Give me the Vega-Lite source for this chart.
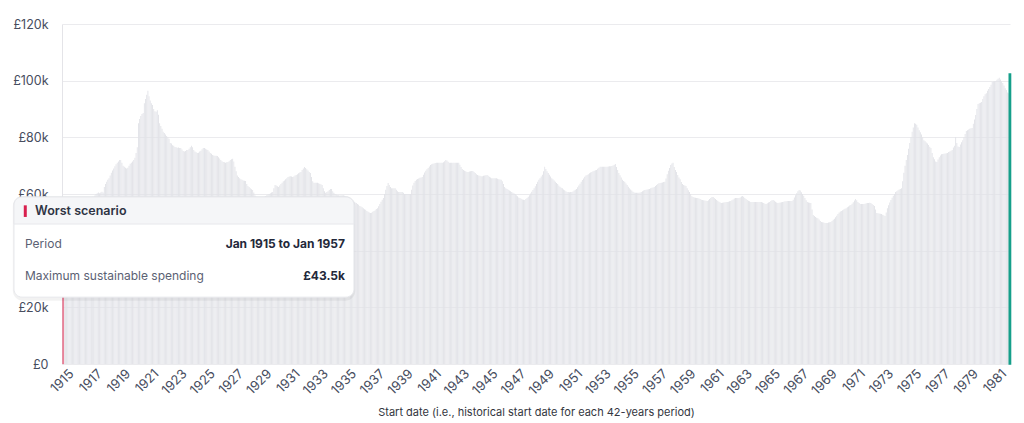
{
  "$schema": "https://vega.github.io/schema/vega-lite/v6.json",
  "width": 948,
  "height": 340,
  "autosize": {"type": "none"},
  "padding": {"left": 62, "top": 24, "right": 14, "bottom": 59},
  "background": "white",
  "config": {
    "font": "Inter",
    "view": {"stroke": null},
    "axisX": {"labelOverlap": false, "labelFlush": false, "labelAngle": -45, "labelOffset": 5, "labelFontSize": 13, "labelColor": "#474d5e", "labelPadding": 3, "ticks": false, "domain": false, "grid": false}
  },
  "resolve": {"axis": {"x": "independent"}},
  "data": {"values": [
    {"d":"1915-01","v":43.5},{"d":"1915-02","v":46},{"d":"1915-03","v":48},{"d":"1915-04","v":49.5},{"d":"1915-05","v":50.5},{"d":"1915-06","v":51.5},{"d":"1915-07","v":52},{"d":"1915-08","v":52.5},{"d":"1915-09","v":53},{"d":"1915-10","v":53.5},{"d":"1915-11","v":54},{"d":"1915-12","v":54.5},
    {"d":"1916-01","v":55},{"d":"1916-02","v":55.5},{"d":"1916-03","v":56},{"d":"1916-04","v":56},{"d":"1916-05","v":56.5},{"d":"1916-06","v":57},{"d":"1916-07","v":57},{"d":"1916-08","v":57.5},{"d":"1916-09","v":57.5},{"d":"1916-10","v":58},{"d":"1916-11","v":58},{"d":"1916-12","v":58.5},
    {"d":"1917-01","v":58.5},{"d":"1917-02","v":59},{"d":"1917-03","v":59},{"d":"1917-04","v":59.5},{"d":"1917-05","v":60},{"d":"1917-06","v":60.3},{"d":"1917-07","v":60.5},{"d":"1917-08","v":60.3},{"d":"1917-09","v":60.5},{"d":"1917-10","v":60.8},{"d":"1917-11","v":60.5},{"d":"1917-12","v":62.5},
    {"d":"1918-01","v":63.5},{"d":"1918-02","v":64.3},{"d":"1918-03","v":65},{"d":"1918-04","v":65.6},{"d":"1918-05","v":66.5},{"d":"1918-06","v":67.5},{"d":"1918-07","v":68.3},{"d":"1918-08","v":69},{"d":"1918-09","v":69.8},{"d":"1918-10","v":70.5},{"d":"1918-11","v":71},{"d":"1918-12","v":71.5},
    {"d":"1919-01","v":72},{"d":"1919-02","v":72},{"d":"1919-03","v":71},{"d":"1919-04","v":70},{"d":"1919-05","v":69.6},{"d":"1919-06","v":69.3},{"d":"1919-07","v":69},{"d":"1919-08","v":69.3},{"d":"1919-09","v":70},{"d":"1919-10","v":70.7},{"d":"1919-11","v":71},{"d":"1919-12","v":71.5},
    {"d":"1920-01","v":72},{"d":"1920-02","v":72.8},{"d":"1920-03","v":74.5},{"d":"1920-04","v":76.5},{"d":"1920-05","v":85},{"d":"1920-06","v":86.5},{"d":"1920-07","v":87.5},{"d":"1920-08","v":88.2},{"d":"1920-09","v":88.6},{"d":"1920-10","v":92},{"d":"1920-11","v":93.5},{"d":"1920-12","v":95},
    {"d":"1921-01","v":96.4},{"d":"1921-02","v":94.5},{"d":"1921-03","v":93},{"d":"1921-04","v":92},{"d":"1921-05","v":91.4},{"d":"1921-06","v":90},{"d":"1921-07","v":89.2},{"d":"1921-08","v":89},{"d":"1921-09","v":89.6},{"d":"1921-10","v":88},{"d":"1921-11","v":85},{"d":"1921-12","v":84},
    {"d":"1922-01","v":83},{"d":"1922-02","v":82},{"d":"1922-03","v":81.5},{"d":"1922-04","v":81},{"d":"1922-05","v":80.5},{"d":"1922-06","v":80},{"d":"1922-07","v":79.5},{"d":"1922-08","v":78},{"d":"1922-09","v":77.8},{"d":"1922-10","v":77.2},{"d":"1922-11","v":77},{"d":"1922-12","v":76.6},
    {"d":"1923-01","v":76.5},{"d":"1923-02","v":76.3},{"d":"1923-03","v":76.4},{"d":"1923-04","v":76.2},{"d":"1923-05","v":76.2},{"d":"1923-06","v":75.7},{"d":"1923-07","v":75.2},{"d":"1923-08","v":75},{"d":"1923-09","v":75.2},{"d":"1923-10","v":75.5},{"d":"1923-11","v":75.5},{"d":"1923-12","v":76},
    {"d":"1924-01","v":76.5},{"d":"1924-02","v":77},{"d":"1924-03","v":76.5},{"d":"1924-04","v":75.5},{"d":"1924-05","v":75},{"d":"1924-06","v":74.7},{"d":"1924-07","v":74.5},{"d":"1924-08","v":74.6},{"d":"1924-09","v":75},{"d":"1924-10","v":75.3},{"d":"1924-11","v":75.8},{"d":"1924-12","v":76.2},
    {"d":"1925-01","v":76.2},{"d":"1925-02","v":76},{"d":"1925-03","v":75.7},{"d":"1925-04","v":75.5},{"d":"1925-05","v":75},{"d":"1925-06","v":74.5},{"d":"1925-07","v":74.2},{"d":"1925-08","v":73.8},{"d":"1925-09","v":73.6},{"d":"1925-10","v":73.5},{"d":"1925-11","v":73.5},{"d":"1925-12","v":73.4},
    {"d":"1926-01","v":73},{"d":"1926-02","v":72.5},{"d":"1926-03","v":72},{"d":"1926-04","v":71.6},{"d":"1926-05","v":71.3},{"d":"1926-06","v":71.2},{"d":"1926-07","v":71},{"d":"1926-08","v":71.2},{"d":"1926-09","v":71.3},{"d":"1926-10","v":71.6},{"d":"1926-11","v":72},{"d":"1926-12","v":72.3},
    {"d":"1927-01","v":72.4},{"d":"1927-02","v":71.5},{"d":"1927-03","v":69.6},{"d":"1927-04","v":68},{"d":"1927-05","v":66.5},{"d":"1927-06","v":66},{"d":"1927-07","v":65.6},{"d":"1927-08","v":65.2},{"d":"1927-09","v":65},{"d":"1927-10","v":64.8},{"d":"1927-11","v":64.7},{"d":"1927-12","v":64.6},
    {"d":"1928-01","v":63.5},{"d":"1928-02","v":62.8},{"d":"1928-03","v":62.5},{"d":"1928-04","v":62},{"d":"1928-05","v":61.7},{"d":"1928-06","v":61.4},{"d":"1928-07","v":60.5},{"d":"1928-08","v":59.5},{"d":"1928-09","v":59},{"d":"1928-10","v":58.8},{"d":"1928-11","v":58.6},{"d":"1928-12","v":58.5},
    {"d":"1929-01","v":58.5},{"d":"1929-02","v":58.6},{"d":"1929-03","v":58.8},{"d":"1929-04","v":59},{"d":"1929-05","v":59.3},{"d":"1929-06","v":59.6},{"d":"1929-07","v":59.8},{"d":"1929-08","v":60},{"d":"1929-09","v":60.3},{"d":"1929-10","v":60.5},{"d":"1929-11","v":60.7},{"d":"1929-12","v":62},
    {"d":"1930-01","v":63.2},{"d":"1930-02","v":63},{"d":"1930-03","v":62.7},{"d":"1930-04","v":62.5},{"d":"1930-05","v":63},{"d":"1930-06","v":63.5},{"d":"1930-07","v":64},{"d":"1930-08","v":64.5},{"d":"1930-09","v":64.8},{"d":"1930-10","v":65.2},{"d":"1930-11","v":65.6},{"d":"1930-12","v":66},
    {"d":"1931-01","v":66.2},{"d":"1931-02","v":66.3},{"d":"1931-03","v":66.2},{"d":"1931-04","v":66},{"d":"1931-05","v":66.2},{"d":"1931-06","v":66.5},{"d":"1931-07","v":66.7},{"d":"1931-08","v":67},{"d":"1931-09","v":67.3},{"d":"1931-10","v":67.6},{"d":"1931-11","v":67.8},{"d":"1931-12","v":68.5},
    {"d":"1932-01","v":69},{"d":"1932-02","v":69.5},{"d":"1932-03","v":69.2},{"d":"1932-04","v":68.7},{"d":"1932-05","v":68.3},{"d":"1932-06","v":67.8},{"d":"1932-07","v":67.4},{"d":"1932-08","v":66},{"d":"1932-09","v":64.5},{"d":"1932-10","v":64},{"d":"1932-11","v":64},{"d":"1932-12","v":64},
    {"d":"1933-01","v":64},{"d":"1933-02","v":63.8},{"d":"1933-03","v":63.6},{"d":"1933-04","v":63.4},{"d":"1933-05","v":63.2},{"d":"1933-06","v":62},{"d":"1933-07","v":61},{"d":"1933-08","v":60.4},{"d":"1933-09","v":60.7},{"d":"1933-10","v":61},{"d":"1933-11","v":61.4},{"d":"1933-12","v":61.8},
    {"d":"1934-01","v":61.8},{"d":"1934-02","v":61},{"d":"1934-03","v":60.4},{"d":"1934-04","v":60},{"d":"1934-05","v":59.8},{"d":"1934-06","v":59.6},{"d":"1934-07","v":59.6},{"d":"1934-08","v":59.5},{"d":"1934-09","v":59.6},{"d":"1934-10","v":59.6},{"d":"1934-11","v":59.6},{"d":"1934-12","v":59.4},
    {"d":"1935-01","v":59.2},{"d":"1935-02","v":59},{"d":"1935-03","v":58.8},{"d":"1935-04","v":58.5},{"d":"1935-05","v":58.2},{"d":"1935-06","v":58},{"d":"1935-07","v":57.6},{"d":"1935-08","v":57.3},{"d":"1935-09","v":57},{"d":"1935-10","v":56.8},{"d":"1935-11","v":56.5},{"d":"1935-12","v":56.2},
    {"d":"1936-01","v":55.8},{"d":"1936-02","v":55.6},{"d":"1936-03","v":55.3},{"d":"1936-04","v":55},{"d":"1936-05","v":54.6},{"d":"1936-06","v":54.4},{"d":"1936-07","v":54},{"d":"1936-08","v":53.7},{"d":"1936-09","v":53.5},{"d":"1936-10","v":53.3},{"d":"1936-11","v":53.4},{"d":"1936-12","v":53.7},
    {"d":"1937-01","v":54},{"d":"1937-02","v":54.3},{"d":"1937-03","v":54.7},{"d":"1937-04","v":55},{"d":"1937-05","v":55.7},{"d":"1937-06","v":56.5},{"d":"1937-07","v":57.3},{"d":"1937-08","v":58},{"d":"1937-09","v":58.6},{"d":"1937-10","v":60},{"d":"1937-11","v":61.5},{"d":"1937-12","v":62.8},
    {"d":"1938-01","v":63.9},{"d":"1938-02","v":63.2},{"d":"1938-03","v":62.5},{"d":"1938-04","v":62},{"d":"1938-05","v":62},{"d":"1938-06","v":62},{"d":"1938-07","v":62},{"d":"1938-08","v":61.5},{"d":"1938-09","v":61},{"d":"1938-10","v":60.7},{"d":"1938-11","v":60.7},{"d":"1938-12","v":60.7},
    {"d":"1939-01","v":60.7},{"d":"1939-02","v":60.4},{"d":"1939-03","v":60},{"d":"1939-04","v":60},{"d":"1939-05","v":60},{"d":"1939-06","v":60},{"d":"1939-07","v":60},{"d":"1939-08","v":60},{"d":"1939-09","v":61.5},{"d":"1939-10","v":63},{"d":"1939-11","v":64},{"d":"1939-12","v":64.6},
    {"d":"1940-01","v":65},{"d":"1940-02","v":65.3},{"d":"1940-03","v":65.5},{"d":"1940-04","v":65.7},{"d":"1940-05","v":65.8},{"d":"1940-06","v":66},{"d":"1940-07","v":66.8},{"d":"1940-08","v":67.6},{"d":"1940-09","v":68.2},{"d":"1940-10","v":68.7},{"d":"1940-11","v":69.2},{"d":"1940-12","v":69.7},
    {"d":"1941-01","v":70.2},{"d":"1941-02","v":70.5},{"d":"1941-03","v":70.7},{"d":"1941-04","v":70.8},{"d":"1941-05","v":70.9},{"d":"1941-06","v":71},{"d":"1941-07","v":71},{"d":"1941-08","v":71},{"d":"1941-09","v":71},{"d":"1941-10","v":71},{"d":"1941-11","v":71},{"d":"1941-12","v":71.2},
    {"d":"1942-01","v":71.6},{"d":"1942-02","v":72},{"d":"1942-03","v":71.8},{"d":"1942-04","v":71.4},{"d":"1942-05","v":71},{"d":"1942-06","v":71},{"d":"1942-07","v":71},{"d":"1942-08","v":71},{"d":"1942-09","v":71},{"d":"1942-10","v":71},{"d":"1942-11","v":71},{"d":"1942-12","v":71},
    {"d":"1943-01","v":71},{"d":"1943-02","v":70.3},{"d":"1943-03","v":69.5},{"d":"1943-04","v":68.8},{"d":"1943-05","v":68.5},{"d":"1943-06","v":68.2},{"d":"1943-07","v":68},{"d":"1943-08","v":67.8},{"d":"1943-09","v":67.8},{"d":"1943-10","v":67.9},{"d":"1943-11","v":68},{"d":"1943-12","v":68.1},
    {"d":"1944-01","v":68.1},{"d":"1944-02","v":67.8},{"d":"1944-03","v":67.4},{"d":"1944-04","v":67},{"d":"1944-05","v":66.7},{"d":"1944-06","v":66.5},{"d":"1944-07","v":66.4},{"d":"1944-08","v":66.3},{"d":"1944-09","v":66.3},{"d":"1944-10","v":66.4},{"d":"1944-11","v":66.5},{"d":"1944-12","v":66.6},
    {"d":"1945-01","v":66.7},{"d":"1945-02","v":66.4},{"d":"1945-03","v":66.1},{"d":"1945-04","v":65.8},{"d":"1945-05","v":65.6},{"d":"1945-06","v":65.6},{"d":"1945-07","v":65.6},{"d":"1945-08","v":65.6},{"d":"1945-09","v":65.6},{"d":"1945-10","v":65.4},{"d":"1945-11","v":65.2},{"d":"1945-12","v":65.1},
    {"d":"1946-01","v":65},{"d":"1946-02","v":64.5},{"d":"1946-03","v":63.5},{"d":"1946-04","v":62.5},{"d":"1946-05","v":62},{"d":"1946-06","v":61.8},{"d":"1946-07","v":61.5},{"d":"1946-08","v":61.2},{"d":"1946-09","v":61},{"d":"1946-10","v":60.7},{"d":"1946-11","v":60.4},{"d":"1946-12","v":60.2},
    {"d":"1947-01","v":59.9},{"d":"1947-02","v":59.6},{"d":"1947-03","v":59.2},{"d":"1947-04","v":58.8},{"d":"1947-05","v":58.6},{"d":"1947-06","v":58.3},{"d":"1947-07","v":58.1},{"d":"1947-08","v":58},{"d":"1947-09","v":57.9},{"d":"1947-10","v":58.2},{"d":"1947-11","v":58.6},{"d":"1947-12","v":59},
    {"d":"1948-01","v":59.6},{"d":"1948-02","v":60.2},{"d":"1948-03","v":60.8},{"d":"1948-04","v":61.4},{"d":"1948-05","v":62},{"d":"1948-06","v":62.7},{"d":"1948-07","v":63.5},{"d":"1948-08","v":64.3},{"d":"1948-09","v":65},{"d":"1948-10","v":65.6},{"d":"1948-11","v":66.2},{"d":"1948-12","v":66.8},
    {"d":"1949-01","v":68},{"d":"1949-02","v":69.6},{"d":"1949-03","v":68.8},{"d":"1949-04","v":68},{"d":"1949-05","v":67.4},{"d":"1949-06","v":66.8},{"d":"1949-07","v":66.2},{"d":"1949-08","v":65.6},{"d":"1949-09","v":65.2},{"d":"1949-10","v":64.8},{"d":"1949-11","v":64.3},{"d":"1949-12","v":63.9},
    {"d":"1950-01","v":63.5},{"d":"1950-02","v":63},{"d":"1950-03","v":62.6},{"d":"1950-04","v":62.2},{"d":"1950-05","v":62},{"d":"1950-06","v":61.6},{"d":"1950-07","v":61.3},{"d":"1950-08","v":61},{"d":"1950-09","v":60.7},{"d":"1950-10","v":60.7},{"d":"1950-11","v":60.6},{"d":"1950-12","v":60.7},
    {"d":"1951-01","v":60.7},{"d":"1951-02","v":60.9},{"d":"1951-03","v":61.2},{"d":"1951-04","v":61.5},{"d":"1951-05","v":61.8},{"d":"1951-06","v":62.4},{"d":"1951-07","v":63},{"d":"1951-08","v":63.6},{"d":"1951-09","v":64.3},{"d":"1951-10","v":64.9},{"d":"1951-11","v":65.5},{"d":"1951-12","v":66.1},
    {"d":"1952-01","v":66.5},{"d":"1952-02","v":66.7},{"d":"1952-03","v":67},{"d":"1952-04","v":67.3},{"d":"1952-05","v":67.6},{"d":"1952-06","v":67.8},{"d":"1952-07","v":68},{"d":"1952-08","v":68.2},{"d":"1952-09","v":68.4},{"d":"1952-10","v":68.5},{"d":"1952-11","v":68.9},{"d":"1952-12","v":69.3},
    {"d":"1953-01","v":69.6},{"d":"1953-02","v":69.6},{"d":"1953-03","v":69.6},{"d":"1953-04","v":69.6},{"d":"1953-05","v":69.6},{"d":"1953-06","v":69.6},{"d":"1953-07","v":69.6},{"d":"1953-08","v":69.7},{"d":"1953-09","v":69.8},{"d":"1953-10","v":69.8},{"d":"1953-11","v":69.9},{"d":"1953-12","v":70.1},
    {"d":"1954-01","v":70.3},{"d":"1954-02","v":70.6},{"d":"1954-03","v":69.5},{"d":"1954-04","v":68.5},{"d":"1954-05","v":67.4},{"d":"1954-06","v":66.6},{"d":"1954-07","v":65.8},{"d":"1954-08","v":65},{"d":"1954-09","v":64.6},{"d":"1954-10","v":64.3},{"d":"1954-11","v":63.7},{"d":"1954-12","v":63.2},
    {"d":"1955-01","v":62.6},{"d":"1955-02","v":62},{"d":"1955-03","v":61.6},{"d":"1955-04","v":61.2},{"d":"1955-05","v":60.8},{"d":"1955-06","v":60.5},{"d":"1955-07","v":60.4},{"d":"1955-08","v":60.4},{"d":"1955-09","v":60.4},{"d":"1955-10","v":60.4},{"d":"1955-11","v":60.5},{"d":"1955-12","v":60.7},
    {"d":"1956-01","v":61},{"d":"1956-02","v":61.2},{"d":"1956-03","v":61.4},{"d":"1956-04","v":61.5},{"d":"1956-05","v":61.6},{"d":"1956-06","v":61.7},{"d":"1956-07","v":61.8},{"d":"1956-08","v":62},{"d":"1956-09","v":62.2},{"d":"1956-10","v":62.3},{"d":"1956-11","v":62.5},{"d":"1956-12","v":62.8},
    {"d":"1957-01","v":63.2},{"d":"1957-02","v":63.5},{"d":"1957-03","v":63.8},{"d":"1957-04","v":63.9},{"d":"1957-05","v":64},{"d":"1957-06","v":64.1},{"d":"1957-07","v":64.2},{"d":"1957-08","v":64.3},{"d":"1957-09","v":65.5},{"d":"1957-10","v":67},{"d":"1957-11","v":68.2},{"d":"1957-12","v":69.2},
    {"d":"1958-01","v":70.2},{"d":"1958-02","v":70.8},{"d":"1958-03","v":71},{"d":"1958-04","v":69.5},{"d":"1958-05","v":68.5},{"d":"1958-06","v":67.8},{"d":"1958-07","v":66.7},{"d":"1958-08","v":65.8},{"d":"1958-09","v":65.2},{"d":"1958-10","v":64.2},{"d":"1958-11","v":63.5},{"d":"1958-12","v":63.2},
    {"d":"1959-01","v":63},{"d":"1959-02","v":62.8},{"d":"1959-03","v":62},{"d":"1959-04","v":61.3},{"d":"1959-05","v":60.7},{"d":"1959-06","v":60},{"d":"1959-07","v":59.2},{"d":"1959-08","v":58.9},{"d":"1959-09","v":58.8},{"d":"1959-10","v":58.7},{"d":"1959-11","v":58.6},{"d":"1959-12","v":58.6},
    {"d":"1960-01","v":58.4},{"d":"1960-02","v":58.2},{"d":"1960-03","v":58},{"d":"1960-04","v":57.9},{"d":"1960-05","v":57.8},{"d":"1960-06","v":57.7},{"d":"1960-07","v":57.6},{"d":"1960-08","v":57.5},{"d":"1960-09","v":57.8},{"d":"1960-10","v":58.2},{"d":"1960-11","v":58.6},{"d":"1960-12","v":58.9},
    {"d":"1961-01","v":58.9},{"d":"1961-02","v":58.6},{"d":"1961-03","v":58.2},{"d":"1961-04","v":57.9},{"d":"1961-05","v":57.6},{"d":"1961-06","v":57.3},{"d":"1961-07","v":57},{"d":"1961-08","v":56.8},{"d":"1961-09","v":56.9},{"d":"1961-10","v":57},{"d":"1961-11","v":57.1},{"d":"1961-12","v":57.2},
    {"d":"1962-01","v":57.2},{"d":"1962-02","v":57.3},{"d":"1962-03","v":57.4},{"d":"1962-04","v":57.5},{"d":"1962-05","v":57.8},{"d":"1962-06","v":58.1},{"d":"1962-07","v":58.4},{"d":"1962-08","v":58.6},{"d":"1962-09","v":58.6},{"d":"1962-10","v":58.6},{"d":"1962-11","v":58.6},{"d":"1962-12","v":58.8},
    {"d":"1963-01","v":59.1},{"d":"1963-02","v":59.3},{"d":"1963-03","v":59},{"d":"1963-04","v":58.6},{"d":"1963-05","v":58.2},{"d":"1963-06","v":57.9},{"d":"1963-07","v":57.6},{"d":"1963-08","v":57.4},{"d":"1963-09","v":57.2},{"d":"1963-10","v":57.2},{"d":"1963-11","v":57.2},{"d":"1963-12","v":57.2},
    {"d":"1964-01","v":57.2},{"d":"1964-02","v":57.2},{"d":"1964-03","v":57.2},{"d":"1964-04","v":57.2},{"d":"1964-05","v":57.2},{"d":"1964-06","v":57.2},{"d":"1964-07","v":57},{"d":"1964-08","v":56.8},{"d":"1964-09","v":56.6},{"d":"1964-10","v":56.5},{"d":"1964-11","v":56.7},{"d":"1964-12","v":57},
    {"d":"1965-01","v":57.2},{"d":"1965-02","v":57.5},{"d":"1965-03","v":57.8},{"d":"1965-04","v":57.9},{"d":"1965-05","v":57.6},{"d":"1965-06","v":57.3},{"d":"1965-07","v":57},{"d":"1965-08","v":56.8},{"d":"1965-09","v":56.9},{"d":"1965-10","v":57},{"d":"1965-11","v":57.1},{"d":"1965-12","v":57.2},
    {"d":"1966-01","v":57.3},{"d":"1966-02","v":57.4},{"d":"1966-03","v":57.4},{"d":"1966-04","v":57.5},{"d":"1966-05","v":57.5},{"d":"1966-06","v":57.5},{"d":"1966-07","v":57.5},{"d":"1966-08","v":57.5},{"d":"1966-09","v":58},{"d":"1966-10","v":58.8},{"d":"1966-11","v":59.6},{"d":"1966-12","v":60.3},
    {"d":"1967-01","v":61},{"d":"1967-02","v":61.4},{"d":"1967-03","v":61.2},{"d":"1967-04","v":60.6},{"d":"1967-05","v":60},{"d":"1967-06","v":59.4},{"d":"1967-07","v":58.6},{"d":"1967-08","v":57.8},{"d":"1967-09","v":57.2},{"d":"1967-10","v":57},{"d":"1967-11","v":56.9},{"d":"1967-12","v":56.8},
    {"d":"1968-01","v":54.5},{"d":"1968-02","v":52.6},{"d":"1968-03","v":52.2},{"d":"1968-04","v":51.9},{"d":"1968-05","v":51.6},{"d":"1968-06","v":51.4},{"d":"1968-07","v":51},{"d":"1968-08","v":50.5},{"d":"1968-09","v":50.1},{"d":"1968-10","v":50},{"d":"1968-11","v":49.9},{"d":"1968-12","v":49.8},
    {"d":"1969-01","v":49.8},{"d":"1969-02","v":49.8},{"d":"1969-03","v":49.9},{"d":"1969-04","v":50},{"d":"1969-05","v":50.1},{"d":"1969-06","v":50.5},{"d":"1969-07","v":50.9},{"d":"1969-08","v":51.3},{"d":"1969-09","v":51.8},{"d":"1969-10","v":52.3},{"d":"1969-11","v":52.9},{"d":"1969-12","v":53.5},
    {"d":"1970-01","v":53.8},{"d":"1970-02","v":54},{"d":"1970-03","v":54.3},{"d":"1970-04","v":54.5},{"d":"1970-05","v":54.8},{"d":"1970-06","v":55},{"d":"1970-07","v":55.3},{"d":"1970-08","v":55.6},{"d":"1970-09","v":55.9},{"d":"1970-10","v":56.1},{"d":"1970-11","v":56.6},{"d":"1970-12","v":57.1},
    {"d":"1971-01","v":57.7},{"d":"1971-02","v":58.2},{"d":"1971-03","v":57.8},{"d":"1971-04","v":57.2},{"d":"1971-05","v":56.8},{"d":"1971-06","v":56.5},{"d":"1971-07","v":56.5},{"d":"1971-08","v":56.5},{"d":"1971-09","v":56.5},{"d":"1971-10","v":56.6},{"d":"1971-11","v":56.7},{"d":"1971-12","v":56.8},
    {"d":"1972-01","v":56.8},{"d":"1972-02","v":56.9},{"d":"1972-03","v":56.8},{"d":"1972-04","v":56.5},{"d":"1972-05","v":56.1},{"d":"1972-06","v":55.8},{"d":"1972-07","v":54.5},{"d":"1972-08","v":53.3},{"d":"1972-09","v":53.2},{"d":"1972-10","v":53.1},{"d":"1972-11","v":53},{"d":"1972-12","v":52.9},
    {"d":"1973-01","v":52.7},{"d":"1973-02","v":52.5},{"d":"1973-03","v":52.2},{"d":"1973-04","v":53.5},{"d":"1973-05","v":55},{"d":"1973-06","v":56},{"d":"1973-07","v":57},{"d":"1973-08","v":57.9},{"d":"1973-09","v":58.7},{"d":"1973-10","v":59.4},{"d":"1973-11","v":60},{"d":"1973-12","v":60.7},
    {"d":"1974-01","v":61},{"d":"1974-02","v":61.3},{"d":"1974-03","v":61.6},{"d":"1974-04","v":61.8},{"d":"1974-05","v":62},{"d":"1974-06","v":64.5},{"d":"1974-07","v":67.5},{"d":"1974-08","v":70},{"d":"1974-09","v":72},{"d":"1974-10","v":73.8},{"d":"1974-11","v":76},{"d":"1974-12","v":78},
    {"d":"1975-01","v":80.1},{"d":"1975-02","v":82},{"d":"1975-03","v":83.5},{"d":"1975-04","v":85},{"d":"1975-05","v":84.8},{"d":"1975-06","v":84.4},{"d":"1975-07","v":83.5},{"d":"1975-08","v":82.5},{"d":"1975-09","v":81.8},{"d":"1975-10","v":81},{"d":"1975-11","v":80},{"d":"1975-12","v":79},
    {"d":"1976-01","v":78.6},{"d":"1976-02","v":78.2},{"d":"1976-03","v":77.8},{"d":"1976-04","v":77.3},{"d":"1976-05","v":76.7},{"d":"1976-06","v":76.2},{"d":"1976-07","v":74.5},{"d":"1976-08","v":73},{"d":"1976-09","v":72.3},{"d":"1976-10","v":71.5},{"d":"1976-11","v":71.3},{"d":"1976-12","v":72.2},
    {"d":"1977-01","v":73},{"d":"1977-02","v":73.6},{"d":"1977-03","v":74},{"d":"1977-04","v":74.1},{"d":"1977-05","v":74.2},{"d":"1977-06","v":74.3},{"d":"1977-07","v":74.4},{"d":"1977-08","v":74.5},{"d":"1977-09","v":74.8},{"d":"1977-10","v":75},{"d":"1977-11","v":75.3},{"d":"1977-12","v":75.5},
    {"d":"1978-01","v":76.4},{"d":"1978-02","v":77},{"d":"1978-03","v":80.1},{"d":"1978-04","v":78},{"d":"1978-05","v":76.8},{"d":"1978-06","v":76.6},{"d":"1978-07","v":77.5},{"d":"1978-08","v":78.3},{"d":"1978-09","v":79},{"d":"1978-10","v":80},{"d":"1978-11","v":81.2},{"d":"1978-12","v":82.2},
    {"d":"1979-01","v":82.5},{"d":"1979-02","v":82.8},{"d":"1979-03","v":83},{"d":"1979-04","v":83.2},{"d":"1979-05","v":83.3},{"d":"1979-06","v":84.8},{"d":"1979-07","v":86.3},{"d":"1979-08","v":87.9},{"d":"1979-09","v":90},{"d":"1979-10","v":91.8},{"d":"1979-11","v":92},{"d":"1979-12","v":92.2},
    {"d":"1980-01","v":92.5},{"d":"1980-02","v":93.5},{"d":"1980-03","v":94.5},{"d":"1980-04","v":95.2},{"d":"1980-05","v":95.6},{"d":"1980-06","v":96.4},{"d":"1980-07","v":97.1},{"d":"1980-08","v":97.8},{"d":"1980-09","v":98.6},{"d":"1980-10","v":99.5},{"d":"1980-11","v":99.7},{"d":"1980-12","v":99.8},
    {"d":"1981-01","v":99.9},{"d":"1981-02","v":100.3},{"d":"1981-03","v":100.7},{"d":"1981-04","v":101},{"d":"1981-05","v":100.4},{"d":"1981-06","v":99.8},{"d":"1981-07","v":99.2},{"d":"1981-08","v":98.3},{"d":"1981-09","v":97.3},{"d":"1981-10","v":96.7},{"d":"1981-11","v":95.8},{"d":"1981-12","v":95.6},
    {"d":"1982-01","v":102.3}
  ]},
  "layer": [
    {
      "mark": {"type": "bar", "color": "#e1e2e7", "binSpacing": 0.3},
      "encoding": {
        "x": {
          "field": "d", "timeUnit": "utcyearmonth", "type": "temporal",
          "scale": {"type": "utc", "nice": false, "domain": [{"year": 1915, "month": 1, "date": 1, "utc": true}, {"year": 1982, "month": 2, "date": 1, "utc": true}]},
          "axis": {
            "orient": "bottom",
            "values": [
              {"year": 1915, "utc": true}, {"year": 1919, "utc": true}, {"year": 1923, "utc": true}, {"year": 1927, "utc": true},
              {"year": 1931, "utc": true}, {"year": 1935, "utc": true}, {"year": 1939, "utc": true}, {"year": 1943, "utc": true},
              {"year": 1947, "utc": true}, {"year": 1951, "utc": true}, {"year": 1955, "utc": true}, {"year": 1959, "utc": true},
              {"year": 1963, "utc": true}, {"year": 1967, "utc": true}, {"year": 1971, "utc": true}, {"year": 1975, "utc": true},
              {"year": 1979, "utc": true}
            ],
            "labelExpr": "utcFormat(datum.value, '%Y')",
            "title": "Start date (i.e., historical start date for each 42-years period)",
            "titleFontSize": 11,
            "titleFontWeight": "normal",
            "titleColor": "#333640",
            "titlePadding": 9
          }
        },
        "y": {
          "field": "v", "type": "quantitative",
          "scale": {"domain": [0, 120], "nice": false},
          "axis": {
            "values": [0, 20, 40, 60, 80, 100, 120],
            "labelExpr": "datum.value == 0 ? '£0' : datum.value == 40 ? '' : '£' + datum.value + 'k'",
            "title": null,
            "ticks": false,
            "domain": true,
            "domainColor": "#e4e4e8",
            "gridColor": "#ebebee",
            "labelPadding": 14,
            "labelFontSize": 12.5,
            "labelColor": "#474d5e"
          }
        }
      }
    },
    {
      "transform": [{"filter": "(utcyear(datum.d) == 1915 && utcmonth(datum.d) == 0) || utcyear(datum.d) == 1982"}],
      "mark": {"type": "bar", "binSpacing": 0},
      "encoding": {
        "x": {
          "field": "d", "timeUnit": "utcyearmonth", "type": "temporal",
          "axis": {
            "orient": "bottom",
            "values": [
              {"year": 1917, "utc": true}, {"year": 1921, "utc": true}, {"year": 1925, "utc": true}, {"year": 1929, "utc": true},
              {"year": 1933, "utc": true}, {"year": 1937, "utc": true}, {"year": 1941, "utc": true}, {"year": 1945, "utc": true},
              {"year": 1949, "utc": true}, {"year": 1953, "utc": true}, {"year": 1957, "utc": true}, {"year": 1961, "utc": true},
              {"year": 1965, "utc": true}, {"year": 1969, "utc": true}, {"year": 1973, "utc": true}, {"year": 1977, "utc": true},
              {"year": 1981, "utc": true}
            ],
            "labelExpr": "utcFormat(datum.value, '%Y')",
            "title": null
          }
        },
        "y": {"field": "v", "type": "quantitative"},
        "color": {"condition": {"test": "utcyear(datum.d) == 1915", "value": "#e6627f"}, "value": "#159f8a"},
        "stroke": {"condition": {"test": "utcyear(datum.d) == 1915", "value": "#e6627f"}, "value": "#159f8a"},
        "strokeWidth": {"condition": {"test": "utcyear(datum.d) == 1915", "value": 0.3}, "value": 1.6}
      }
    },
    {
      "data": {"values": [{"scenario": "Worst scenario", "period": "Jan 1915 to Jan 1957", "spending": "£43.5k"}]},
      "layer": [
        {
          "mark": {"type": "rect", "fill": "#000000", "opacity": 0.05, "cornerRadius": 10},
          "encoding": {
            "x": {"datum": {"year": 1911, "month": 7, "date": 10, "utc": true}, "type": "temporal", "axis": null},
            "x2": {"datum": {"year": 1935, "month": 10, "date": 5, "utc": true}},
            "y": {"datum": 22.3, "type": "quantitative"},
            "y2": {"datum": 59.3}
          }
        },
        {
          "mark": {"type": "rect", "fill": "#ffffff", "stroke": "#e7e8ec", "strokeWidth": 1, "cornerRadius": 8},
          "encoding": {
            "x": {"datum": {"year": 1911, "month": 8, "date": 9, "utc": true}, "type": "temporal", "axis": null},
            "x2": {"datum": {"year": 1935, "month": 8, "date": 30, "utc": true}},
            "y": {"datum": 23.6, "type": "quantitative"},
            "y2": {"datum": 58.95}
          }
        },
        {
          "mark": {"type": "rect", "fill": "#f5f6f8", "stroke": "#e7e8ec", "strokeWidth": 1, "cornerRadiusTopLeft": 8, "cornerRadiusTopRight": 8},
          "encoding": {
            "x": {"datum": {"year": 1911, "month": 8, "date": 9, "utc": true}, "type": "temporal", "axis": null},
            "x2": {"datum": {"year": 1935, "month": 8, "date": 30, "utc": true}},
            "y": {"datum": 49.4, "type": "quantitative"},
            "y2": {"datum": 58.95}
          }
        },
        {
          "mark": {"type": "rule", "color": "#d81f4e", "strokeWidth": 3},
          "encoding": {
            "x": {"datum": {"year": 1912, "month": 5, "date": 27, "utc": true}, "type": "temporal", "axis": null},
            "y": {"datum": 56.0, "type": "quantitative"},
            "y2": {"datum": 51.9}
          }
        },
        {
          "mark": {"type": "text", "align": "left", "baseline": "middle", "fontSize": 12.5, "fontWeight": 600, "color": "#2f3444"},
          "encoding": {
            "x": {"datum": {"year": 1913, "month": 2, "date": 3, "utc": true}, "type": "temporal", "axis": null},
            "y": {"datum": 54.0, "type": "quantitative"},
            "text": {"field": "scenario"}
          }
        },
        {
          "mark": {"type": "text", "align": "left", "baseline": "middle", "fontSize": 12, "color": "#5b6173"},
          "encoding": {
            "x": {"datum": {"year": 1912, "month": 5, "date": 19, "utc": true}, "type": "temporal", "axis": null},
            "y": {"datum": 42.35, "type": "quantitative"},
            "text": {"value": "Period"}
          }
        },
        {
          "mark": {"type": "text", "align": "left", "baseline": "middle", "fontSize": 12, "color": "#5b6173"},
          "encoding": {
            "x": {"datum": {"year": 1912, "month": 5, "date": 19, "utc": true}, "type": "temporal", "axis": null},
            "y": {"datum": 31.06, "type": "quantitative"},
            "text": {"value": "Maximum sustainable spending"}
          }
        },
        {
          "mark": {"type": "text", "align": "right", "baseline": "middle", "fontSize": 12, "fontWeight": "bold", "color": "#23283a"},
          "encoding": {
            "x": {"datum": {"year": 1935, "month": 1, "date": 10, "utc": true}, "type": "temporal", "axis": null},
            "y": {"datum": 42.35, "type": "quantitative"},
            "text": {"field": "period"}
          }
        },
        {
          "mark": {"type": "text", "align": "right", "baseline": "middle", "fontSize": 12, "fontWeight": "bold", "color": "#23283a"},
          "encoding": {
            "x": {"datum": {"year": 1935, "month": 1, "date": 10, "utc": true}, "type": "temporal", "axis": null},
            "y": {"datum": 31.06, "type": "quantitative"},
            "text": {"field": "spending"}
          }
        }
      ]
    }
  ]
}
